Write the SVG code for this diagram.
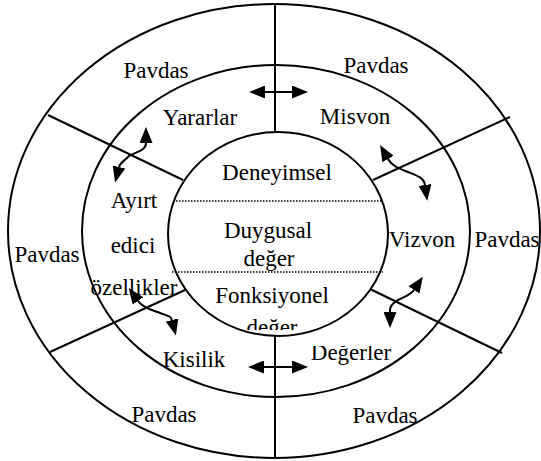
<svg xmlns="http://www.w3.org/2000/svg" width="541" height="461" viewBox="0 0 541 461">
<style>
.ring{fill:none;stroke:#000;stroke-width:2}
.spoke{stroke:#000;stroke-width:2;fill:none}
.dot{stroke:#000;stroke-width:1.5;stroke-dasharray:1.5 1.5;fill:none}
.arr{stroke:#000;stroke-width:2;fill:none;marker-start:url(#ah);marker-end:url(#ah)}
.t{font-family:'Liberation Serif','Times New Roman',serif;font-size:23px;fill:#000;text-anchor:middle}
</style>
<defs>
<marker id="ah" viewBox="0 0 16 13" refX="0" refY="6.5" markerWidth="16" markerHeight="13" orient="auto-start-reverse" markerUnits="userSpaceOnUse">
<path d="M0,0 L16,6.5 L0,13 z" fill="#000"/>
</marker>
<clipPath id="clipBottom"><rect x="200" y="300" width="150" height="30"/></clipPath>
<clipPath id="clipDeg"><rect x="300" y="346" width="110" height="30"/></clipPath>
</defs>
<rect width="541" height="461" fill="#fff"/>
<g id="rings">
<ellipse class="ring" cx="274" cy="231" rx="266" ry="227"/>
<ellipse class="ring" cx="276" cy="231" rx="194" ry="166"/>
<ellipse class="ring" cx="278" cy="234" rx="110" ry="102"/>
</g>
<g id="spokes">
<line class="spoke" x1="275" y1="4" x2="275" y2="132"/>
<line class="spoke" x1="275" y1="336" x2="275" y2="458"/>
<line class="spoke" x1="48" y1="115" x2="183" y2="180"/>
<line class="spoke" x1="373" y1="180" x2="510" y2="117"/>
<line class="spoke" x1="50" y1="352" x2="185" y2="290"/>
<line class="spoke" x1="370" y1="289" x2="502" y2="353"/>
<line class="dot" x1="176" y1="201" x2="381" y2="201"/>
<line class="dot" x1="172" y1="272" x2="383" y2="272"/>
</g>
<g id="core">
<text class="t" x="277" y="180">Deneyimsel</text>
<text class="t" x="268" y="238">Duygusal</text>
<text class="t" x="269" y="266">değer</text>
<text class="t" x="272" y="303">Fonksiyonel</text>
<text class="t" x="272" y="335" clip-path="url(#clipBottom)">değer</text>
</g>
<g id="yararlar"><text class="t" x="200" y="125">Yararlar</text></g>
<g id="misvon"><text class="t" x="355" y="124">Misvon</text></g>
<g id="vizvon"><text class="t" x="422" y="247">Vizvon</text></g>
<g id="degerler"><text class="t" x="351" y="360" clip-path="url(#clipDeg)">Değerler</text></g>
<g id="kisilik"><text class="t" x="194" y="367">Kisilik</text></g>
<g id="ayirt">
<text class="t" x="134" y="208">Ayırt</text>
<text class="t" x="133" y="253">edici</text>
<text class="t" x="134" y="295">özellikler</text>
</g>
<g id="pavdas-tl"><text class="t" x="156" y="78">Pavdas</text></g>
<g id="pavdas-tr"><text class="t" x="376" y="73">Pavdas</text></g>
<g id="pavdas-l"><text class="t" x="47" y="262">Pavdas</text></g>
<g id="pavdas-r"><text class="t" x="507" y="247">Pavdas</text></g>
<g id="pavdas-bl"><text class="t" x="164" y="422">Pavdas</text></g>
<g id="pavdas-br"><text class="t" x="385" y="423">Pavdas</text></g>
<g id="connectors">
<path class="arr" d="M265,92 L292,92"/>
<path class="arr" d="M264,367 L292,367"/>
<path class="arr" d="M146,143 C146,152 133,152 128,157 S120,163 119,167"/>
<path class="arr" d="M388,159 C392,166 398,168 408,172 S424,178 425,185"/>
<path class="arr" d="M414,290 C410,296 400,298 395,302 S390,308 390,312"/>
<path class="arr" d="M138,301 C143,308 152,310 160,313 S171,316 172,320"/>
</g>
</svg>
